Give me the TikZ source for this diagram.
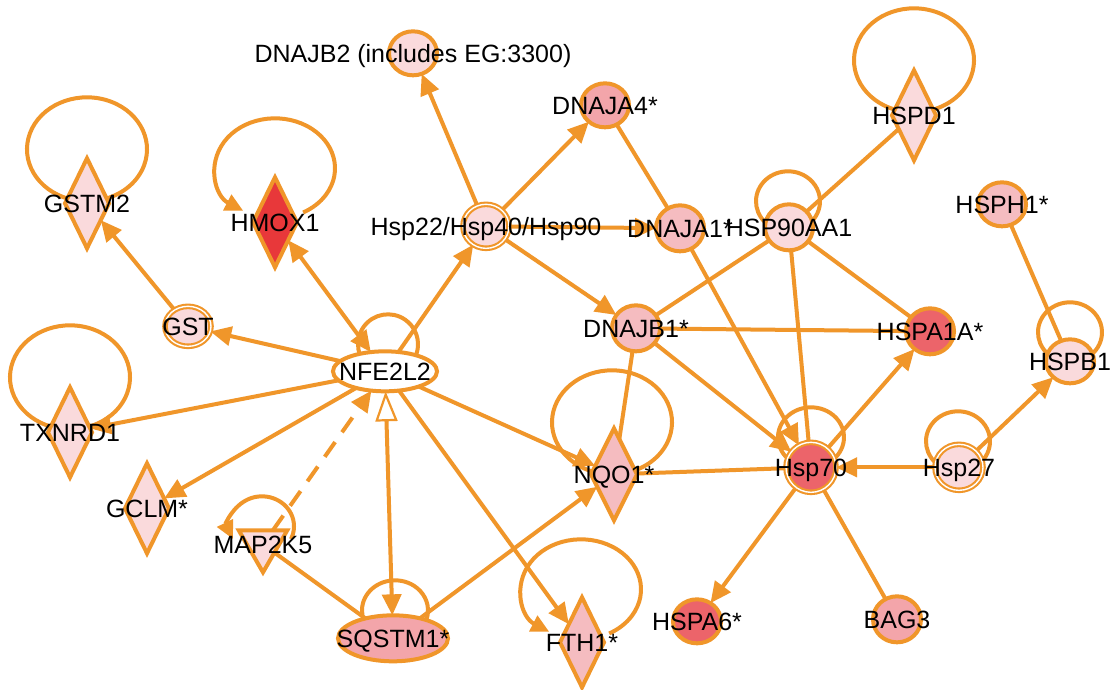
\documentclass[tikz,border=0pt]{standalone}
\usepackage{fontspec}
\setmainfont{Liberation Sans}
\usetikzlibrary{shapes.geometric,arrows.meta,backgrounds,calc}
\definecolor{orng}{RGB}{240,150,42}
\definecolor{pkA}{RGB}{250,218,220}
\definecolor{pkB}{RGB}{245,188,192}
\definecolor{pkC}{RGB}{243,165,170}
\definecolor{pkD}{RGB}{236,100,106}
\definecolor{redn}{RGB}{232,56,58}
\newcommand\nodeloop[6][]{\draw[edge,#1] (#2.center) ++(#3) ++(#4:#6) arc (#4:#5:#6);}
\begin{document}
\begin{tikzpicture}[x=1pt,y=-1pt,
  nd/.style={draw=orng, line width=4pt, inner sep=0pt, outer sep=0pt},
  circ/.style={nd, ellipse, minimum width=48pt, minimum height=44pt},
  dbl/.style={circ, double=white, double distance=1.4pt, line width=2.1pt},
  dia/.style={nd, diamond, minimum width=44pt, minimum height=90pt},
  tri/.style={nd, regular polygon, regular polygon sides=3, shape border rotate=180, minimum size=56pt},
  lbl/.style={font=\fontsize{25}{29}\selectfont, text=black, inner sep=0pt, text height=17.9pt, text depth=0pt},
  edge/.style={draw=orng, line width=4pt},
  ln/.style={edge},
  arr/.style={edge, -{Triangle[length=21pt,width=19pt]}},
  biarr/.style={edge, {Triangle[length=21pt,width=19pt]}-{Triangle[length=21pt,width=19pt]}},
  sarr/.style={edge, {Triangle[length=18pt,width=17pt]}-},
  dasharr/.style={arr, dash pattern=on 18pt off 12pt},
  inh/.style={edge, {Triangle[length=21pt,width=19pt]}-{Triangle[open,fill=white,length=30pt,width=22pt,line width=2.2pt]}}
]
% nodes
\node[circ, fill=pkA, label={[lbl]center:DNAJB2 (includes EG:3300)}] (dnajb2) at (413,52) {};
\node[circ, fill=pkC, label={[lbl]center:DNAJA4*}] (dnaja4) at (605,104) {};
\node[dia, fill=pkA, label={[lbl]center:GSTM2}] (gstm2) at (87,202) {};
\node[dia, fill=redn, label={[lbl]center:HMOX1}] (hmox) at (275,221) {};
\node[dbl, fill=pkA, minimum width=46pt, minimum height=44pt, label={[lbl]center:Hsp22/Hsp40/Hsp90}] (hsp22) at (486,225) {};
\node[circ, fill=pkB, minimum height=46pt, label={[lbl]center:DNAJA1*}] (dnaja1) at (680,227) {};
\node[circ, fill=pkA, minimum height=46pt, label={[lbl]center:HSP90AA1}] (hsp90) at (789,226) {};
\node[dia, fill=pkA, label={[lbl]center:HSPD1}] (hspd1) at (914,114) {};
\node[circ, fill=pkB, label={[lbl]center:HSPH1*}] (hsph1) at (1002,203) {};
\node[circ, fill=pkA, label={[lbl]center:HSPB1}] (hspb1) at (1070,360) {};
\node[dbl, fill=pkA, minimum width=46pt, minimum height=40pt, label={[lbl]center:GST}] (gst) at (188,325) {};
\node[nd, ellipse, fill=white, minimum width=104pt, minimum height=40pt, label={[lbl]center:NFE2L2}] (nfe) at (385,370) {};
\node[dia, fill=pkA, label={[lbl]center:TXNRD1}] (txnrd) at (70,431) {};
\node[dia, fill=pkA, label={[lbl]center:GCLM*}] (gclm) at (147,507) {};
\node[tri, fill=pkA, label={[lbl]center:MAP2K5}] (map2k5) at (263,543) {};
\node[nd, ellipse, fill=pkC, minimum width=110pt, minimum height=46pt, label={[lbl]center:SQSTM1*}] (sqstm) at (393,637) {};
\node[dia, fill=pkB, minimum width=46pt, minimum height=92pt, label={[lbl]center:NQO1*}] (nqo) at (614,473) {};
\node[dia, fill=pkB, label={[lbl]center:FTH1*}] (fth) at (582,641) {};
\node[circ, fill=pkB, minimum height=46pt, label={[lbl]center:DNAJB1*}] (dnajb1) at (636,327) {};
\node[circ, fill=pkD, minimum height=46pt, label={[lbl]center:HSPA1A*}] (hspa1a) at (930,330) {};
\node[dbl, fill=pkD, minimum width=50pt, minimum height=50pt, label={[lbl]center:Hsp70}] (hsp70) at (811,466) {};
\node[dbl, fill=pkA, minimum width=48pt, minimum height=46pt, label={[lbl]center:Hsp27}] (hsp27) at (959,466) {};
\node[circ, fill=pkD, label={[lbl]center:HSPA6*}] (hspa6) at (697,620) {};
\node[circ, fill=pkC, minimum height=46pt, label={[lbl]center:BAG3}] (bag3) at (897,618) {};

\begin{scope}[on background layer]
\fill[white] (0,0) rectangle (1113,686);
% self loops
\nodeloop{gstm2}{0,-54}{252}{-72}{60pt and 52pt}
\nodeloop[sarr]{hmox}{0,-54}{238}{-62}{60pt and 50pt}
\nodeloop{hspd1}{0,-55}{252}{-72}{60pt and 52pt}
\nodeloop{txnrd}{0,-55}{252}{-72}{60pt and 52pt}
\nodeloop{nfe}{3,-27}{235}{-55}{30pt and 30pt}
\nodeloop{hsp90}{-1,-26}{235}{-55}{32pt and 30pt}
\nodeloop[sarr]{map2k5}{-1,-18}{205}{-25}{32pt and 30pt}
\nodeloop{sqstm}{2,-28}{235}{-55}{33pt and 30pt}
\nodeloop{nqo}{-2,-52}{252}{-72}{60pt and 52pt}
\nodeloop[sarr]{fth}{-1,-53}{238}{-62}{60pt and 50pt}
\nodeloop{hsp70}{0,-30}{235}{-55}{33pt and 30pt}
\nodeloop{hsp27}{-1,-26}{235}{-55}{32pt and 30pt}
\nodeloop{hspb1}{0,-29}{235}{-55}{32pt and 30pt}
% edges
\draw[arr] (gst) -- (gstm2);
\draw[arr] (nfe) -- (gst);
\draw[biarr] (hmox) -- (nfe);
\draw[arr] (nfe) -- (hsp22);
\draw[arr] (hsp22) -- (dnajb2);
\draw[arr] (hsp22) -- (dnaja4);
\draw[arr] (hsp22) -- (dnaja1);
\draw[arr] (hsp22) -- (dnajb1);
\draw[ln] (dnaja4) -- (dnaja1);
\draw[arr] (dnaja1) -- (hsp70);
\draw[ln] (hsp90) -- (hspd1);
\draw[ln] (hsp90) -- (dnajb1);
\draw[ln] (hsp90) -- (hsp70);
\draw[ln] (hsp90) -- (hspa1a);
\draw[ln] (dnajb1) -- (hspa1a);
\draw[arr] (dnajb1) -- (hsp70);
\draw[ln] (dnajb1) -- (nqo);
\draw[arr] (hsp70) -- (hspa1a);
\draw[ln] (hsp70) -- (nqo);
\draw[arr] (hsp27) -- (hsp70);
\draw[arr] (hsp27) -- (hspb1);
\draw[ln] (hsph1) -- (hspb1);
\draw[arr] (hsp70) -- (hspa6);
\draw[ln] (hsp70) -- (bag3);
\draw[arr] (nfe) -- (nqo);
\draw[arr] (nfe) -- (fth);
\draw[arr] (nfe) -- (txnrd);
\draw[arr] (nfe) -- (gclm);
\draw[dasharr] (map2k5) -- (nfe);
\draw[inh] (sqstm) -- (nfe);
\draw[arr] (sqstm) -- (nqo);
\draw[ln] (sqstm) -- (map2k5);
\end{scope}
\useasboundingbox (0,0) rectangle (1113,686);
\end{tikzpicture}
\end{document}
